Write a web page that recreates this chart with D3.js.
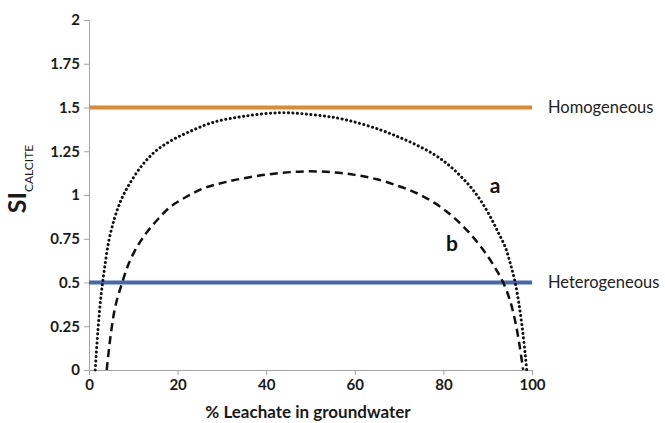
<!DOCTYPE html>
<html>
<head>
<meta charset="utf-8">
<script src="https://cdn.jsdelivr.net/npm/d3@7"></script>
<style>
  body { margin: 0; background: #fff; }
  text { font-family: Lato, "Open Sans", sans-serif; }
</style>
</head>
<body>
<div id="chart"></div>
<script>
// curve a (dotted)
const leachateA = [1.4, 2, 2.7, 3.5, 4.5, 5.8, 7.3, 9.3, 12, 15, 18.5, 22.5, 28, 35, 43, 50, 56, 61, 66, 70, 74, 78, 81, 84, 86.5, 88.5, 90.5, 92.3, 94, 95.2, 96.2, 97.1, 97.9, 98.5, 98.8];
const siA = [0, 0.22, 0.42, 0.58, 0.74, 0.87, 0.975, 1.07, 1.17, 1.25, 1.31, 1.36, 1.415, 1.45, 1.47, 1.46, 1.44, 1.41, 1.37, 1.33, 1.285, 1.23, 1.175, 1.105, 1.035, 0.965, 0.88, 0.79, 0.70, 0.6, 0.5, 0.37, 0.22, 0.08, 0];

// curve b (dashed)
const leachateB = [4, 5, 6, 7.5, 9, 11, 13, 15.5, 18.5, 22, 26, 31, 37, 43, 49, 55, 60, 65, 70, 74, 78, 81.5, 84.5, 87.5, 90, 92, 93.5, 95, 96.2, 97.2, 98];
const siB = [0, 0.22, 0.37, 0.5, 0.61, 0.71, 0.785, 0.86, 0.935, 0.99, 1.04, 1.075, 1.105, 1.125, 1.135, 1.13, 1.115, 1.09, 1.05, 1.01, 0.955, 0.89, 0.82, 0.735, 0.65, 0.57, 0.5, 0.4, 0.28, 0.14, 0];

const thresholds = [
    {label: "Homogeneous", value: 1.5, color: "#dc8a35"},
    {label: "Heterogeneous", value: 0.5, color: "#4467af"}
];

const xTicks = [0, 20, 40, 60, 80, 100];
const yTicks = [0, 0.25, 0.5, 0.75, 1, 1.25, 1.5, 1.75, 2];
const yTickLabels = ["0", "0.25", "0.5", "0.75", "1", "1.25", "1.5", "1.75", "2"];

const width = 665, height = 423;
const margin = {left: 89, right: 133, top: 20, bottom: 53};

const svg = d3.select("#chart")
    .append("svg")
    .attr("width", width)
    .attr("height", height);

const x = d3.scaleLinear().domain([0, 100]).range([margin.left, width - margin.right]);
const y = d3.scaleLinear().domain([0, 2]).range([height - margin.bottom, margin.top]);

// axes
const xAxis = svg.append("g")
    .attr("transform", `translate(0,${y(0)})`)
    .call(d3.axisBottom(x).tickValues(xTicks).tickSize(5).tickPadding(4));

const yAxis = svg.append("g")
    .attr("transform", `translate(${x(0)},0)`)
    .call(d3.axisLeft(y).tickValues(yTicks).tickFormat((d, i) => yTickLabels[i]).tickSize(5).tickPadding(4));

[xAxis, yAxis].forEach(ax => {
    ax.selectAll("path, line").attr("stroke", "#a3a3a3").attr("stroke-width", 1);
    ax.selectAll("text")
        .attr("fill", "#1a1a1a")
        .style("font-size", "15px")
        .style("font-weight", "bold");
});

// threshold lines
thresholds.forEach(t => {
    svg.append("line")
        .attr("x1", x(0))
        .attr("x2", x(100))
        .attr("y1", y(t.value))
        .attr("y2", y(t.value))
        .attr("stroke", t.color)
        .attr("stroke-width", 4);

    svg.append("text")
        .attr("x", 548)
        .attr("y", y(t.value))
        .attr("dy", "0.35em")
        .attr("fill", "#222")
        .style("font-size", "16.5px")
        .text(t.label);
});

const line = d3.line()
    .x(d => x(d[0]))
    .y(d => y(d[1]))
    .curve(d3.curveCatmullRom.alpha(0.5));

svg.append("path")
    .datum(d3.zip(leachateA, siA))
    .attr("d", line)
    .attr("fill", "none")
    .attr("stroke", "#111")
    .attr("stroke-width", 3)
    .attr("stroke-linecap", "round")
    .attr("stroke-dasharray", "0.1 4.4");

svg.append("path")
    .datum(d3.zip(leachateB, siB))
    .attr("d", line)
    .attr("fill", "none")
    .attr("stroke", "#111")
    .attr("stroke-width", 2.5)
    .attr("stroke-dasharray", "8 5");

// curve labels
svg.append("text")
    .attr("x", 495)
    .attr("y", 193)
    .attr("text-anchor", "middle")
    .style("font-size", "21px")
    .style("font-weight", "bold")
    .attr("fill", "#111")
    .text("a");

svg.append("text")
    .attr("x", 452)
    .attr("y", 251)
    .attr("text-anchor", "middle")
    .style("font-size", "21px")
    .style("font-weight", "bold")
    .attr("fill", "#111")
    .text("b");

// axis titles
svg.append("text")
    .attr("x", 308)
    .attr("y", 418)
    .attr("text-anchor", "middle")
    .style("font-size", "17px")
    .style("font-weight", "bold")
    .attr("fill", "#1a1a1a")
    .text("% Leachate in groundwater");

const yTitle = svg.append("text")
    .attr("transform", "translate(26,179) rotate(-90)")
    .attr("text-anchor", "middle")
    .attr("fill", "#1a1a1a");

yTitle.append("tspan")
    .style("font-size", "25px")
    .style("font-weight", "bold")
    .text("SI");

yTitle.append("tspan")
    .attr("dy", "7")
    .style("font-size", "12px")
    .text("CALCITE");
</script>
</body>
</html>
